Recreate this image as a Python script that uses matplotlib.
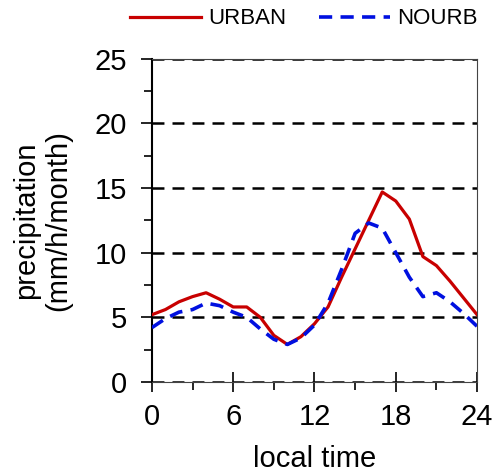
import matplotlib.pyplot as plt
import numpy as np

plt.rcParams["font.family"] = ["Liberation Sans", "DejaVu Sans"]
plt.rcParams["lines.scale_dashes"] = False

hours = np.arange(0, 25)
urban = [5.2, 5.6, 6.2, 6.6, 6.9, 6.4, 5.8, 5.8, 5.0, 3.6, 2.9, 3.5, 4.5,
         5.8, 8.1, 10.3, 12.5, 14.7, 14.0, 12.6, 9.7, 9.0, 7.8, 6.5, 5.2]
nourb = [4.2, 4.9, 5.4, 5.6, 6.1, 5.9, 5.4, 5.0, 4.1, 3.3, 2.9, 3.4, 4.4,
         6.1, 8.7, 11.5, 12.3, 11.9, 10.0, 8.1, 6.6, 6.9, 6.2, 5.3, 4.3]
labels = ["URBAN", "NOURB"]
xticks = [0, 6, 12, 18, 24]
yticks = [0, 5, 10, 15, 20, 25]

fig = plt.figure(figsize=(4.98, 4.75), dpi=100)
ax = fig.add_axes([0.305, 0.196, 0.653, 0.680])

ax.set_xlim(0, 24)
ax.set_ylim(0, 25)
for y in yticks:
    ax.axhline(y, color="black", linewidth=1.8,
               linestyle=(0, (8.6, 5.8)), zorder=1)

ax.plot(hours, urban, color="#c80000", linewidth=2.3,
        label=labels[0], zorder=3)
ax.plot(hours, nourb, color="#0010e0", linewidth=2.6,
        linestyle=(0, (9.5, 6)), label=labels[1], zorder=3)

ax.set_xticks(xticks)
ax.set_xticks([3, 9, 15, 21], minor=True)
ax.set_yticks(yticks)
ax.set_yticks([2.5, 7.5, 12.5, 17.5, 22.5], minor=True)
ax.tick_params(axis="x", which="major", direction="inout", length=14,
               width=1.2, labelsize=21, pad=8)
ax.tick_params(axis="x", which="minor", direction="out", length=6,
               width=1.2)
ax.tick_params(axis="y", which="major", direction="out", length=8,
               width=1.2, labelsize=21, pad=10)
ax.tick_params(axis="y", which="minor", direction="out", length=6,
               width=1.2)
for side in ["top", "right", "bottom"]:
    ax.spines[side].set_linewidth(0.8)
    ax.spines[side].set_color("#444444")
ax.spines["left"].set_linewidth(1.5)

ax.set_xlabel("local time", fontsize=21, labelpad=10)
ax.set_ylabel("precipitation\n(mm/h/month)", fontsize=21,
              linespacing=1.2, labelpad=16)

fig.legend(loc="center", bbox_to_anchor=(0.61, 0.96), ncol=2,
           frameon=False, fontsize=16, handlelength=3.2,
           handletextpad=0.3, columnspacing=1.5, borderaxespad=0)

plt.savefig("out.png", dpi=100)
